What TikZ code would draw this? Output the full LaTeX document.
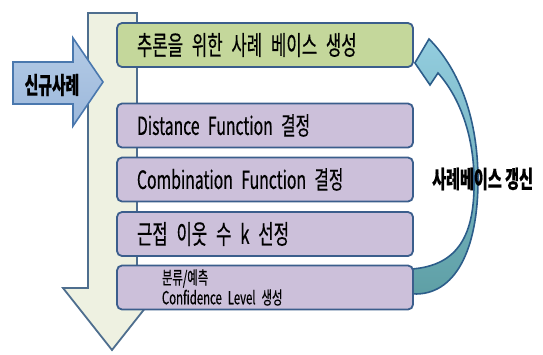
\documentclass[tikz,border=0pt]{standalone}
\usepackage{fontspec}
\setmainfont[FakeStretch=0.63,FakeBold=0.4]{Noto Sans CJK KR}
\usepackage{tikz}
\usetikzlibrary{calc}
\definecolor{cbshaft}{HTML}{EEF1E1}
\definecolor{cbshaftline}{HTML}{4E6E8E}
\definecolor{cbline}{HTML}{3B5E8C}
\definecolor{cbgreen}{HTML}{C4D79B}
\definecolor{cbpurple}{HTML}{CCC0DA}
\definecolor{cbblue}{HTML}{B4CBE6}
\definecolor{cbbluedark}{HTML}{9CB8DB}
\definecolor{cbblueline}{HTML}{4A78AE}
\definecolor{cbsky}{HTML}{93CDDF}
\definecolor{cbteal}{HTML}{5E9FA5}
\definecolor{cbtealline}{HTML}{2C5D8A}
\newcommand\stagefont{\fontsize{26.5}{28}\selectfont\spaceskip=3pt plus 1pt\relax}
\newcommand\latinfont{\fontsize{25}{28}\selectfont\spaceskip=3pt plus 1pt\relax}

\begin{document}
\begin{tikzpicture}[x=1pt,y=-1pt,
    stage/.style={draw=cbline,line width=1.8pt,rounded corners=5pt,fill=cbpurple,
      minimum width=296pt,minimum height=44pt,text width=256pt,inner xsep=20pt,
      align=left,font=\stagefont},
    tag/.style={inner sep=0pt,font=\fontsize{24}{26}\selectfont\bfseries}]
  \useasboundingbox (0,0) rectangle (543,354);
  % big down arrow behind the steps
  \draw[draw=cbshaftline,fill=cbshaft,line width=1.8pt,line join=miter]
    (88,13) -- (137,13) -- (137,288) -- (161,288) -- (112,350) -- (63,288) -- (88,288) -- cycle;
  % new case arrow
  \draw[draw=cbblueline,top color=cbblue,bottom color=cbbluedark,line width=1.6pt,line join=miter]
    (13,62) -- (73,62) -- (73,38) -- (103,82) -- (73,126) -- (73,104) -- (13,104) -- cycle;
  \node[tag,font=\fontsize{23.5}{26}\selectfont\bfseries] (newcase) at (52,85) {신규사례};

  \node[stage,fill=cbgreen] (build) at (265,45) {추론을 위한 사례 베이스 생성};
  \node[stage,font=\latinfont] (dist) at (265,125.5) {Distance Function 결정};
  \node[stage,font=\latinfont] (comb) at (265,179.5) {Combination Function 결정};
  \node[stage] (knn) at (265,234) {근접 이웃 수 k 선정};

  % update arrow, from the last step back to the first
  \draw[draw=cbtealline,top color=cbsky,bottom color=cbteal,line width=1.6pt,line join=miter]
    ($(knn.south east)+(-1,37)$) .. controls (455,296) and (478,250) .. (478,180)
      .. controls (478,120) and (460,70) .. (429,39)
      -- ($(build.south east)+(1,-5)$) -- (430,85) -- (438,73)
      .. controls (462,100) and (474,140) .. (474,180)
      .. controls (475,235) and (458,265) .. ($(knn.south east)+(-1,12)$);

  \node[stage,inner xsep=45pt,text width=206pt,font=\fontsize{18}{20}\selectfont]
    (pred) at (265,287.5) {분류/예측\\Confidence Level 생성};
  \node[tag,anchor=west] (update) at (432,179) {사례베이스 갱신};
\end{tikzpicture}
\end{document}
